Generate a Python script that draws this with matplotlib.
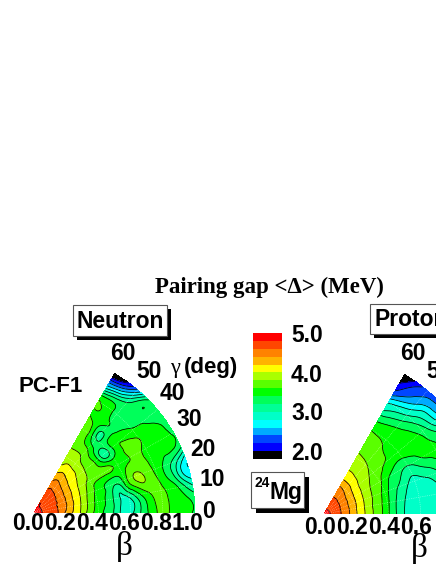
import numpy as np
import matplotlib
matplotlib.use("Agg")
import matplotlib.pyplot as plt
import matplotlib.tri as mtri
from matplotlib.colors import ListedColormap
from matplotlib.patches import Rectangle

# values are in colour steps above 2.0 MeV (one step = 3/16 MeV)
step = 3.0 / 16
beta_vals = np.arange(0, 21) * 0.05
gamma_vals = np.arange(0, 13) * 5.0

neutron_steps = [
    [15.3, 15.0, 14.6, 14.0, 12.8, 11.8, 10.7, 9.4, 8.5, 7.7, 6.9, 5.7, 5.7, 6.7, 7.8, 8.8, 9.2, 8.9, 8.5, 8.2, 7.9],
    [15.3, 15.0, 14.6, 14.0, 13.0, 11.9, 10.8, 9.6, 8.6, 7.9, 7.0, 5.8, 5.5, 6.6, 7.9, 8.9, 9.3, 8.9, 8.5, 8.2, 7.7],
    [15.3, 15.0, 14.6, 14.0, 13.1, 12.0, 10.9, 9.7, 8.7, 8.0, 7.0, 5.9, 6.2, 7.5, 8.6, 9.2, 9.2, 8.8, 8.2, 7.1, 6.0],
    [15.3, 15.0, 14.6, 14.0, 13.2, 12.1, 11.0, 9.8, 8.8, 8.1, 7.2, 6.2, 7.8, 9.1, 9.9, 9.5, 9.0, 8.1, 7.0, 5.2, 4.2],
    [15.3, 15.0, 14.6, 14.0, 13.2, 12.1, 11.1, 10.0, 9.0, 8.2, 7.5, 7.2, 8.5, 9.9, 10.2, 9.4, 8.8, 8.0, 7.1, 5.9, 4.5],
    [15.3, 15.0, 14.6, 14.1, 13.3, 12.2, 11.2, 10.2, 9.2, 8.5, 8.3, 8.2, 8.6, 9.3, 9.4, 9.2, 8.7, 8.3, 8.2, 8.1, 7.4],
    [15.3, 15.0, 14.7, 14.1, 13.3, 12.3, 11.3, 10.4, 9.7, 9.4, 9.3, 9.2, 8.7, 8.8, 9.1, 9.2, 8.7, 8.3, 8.1, 8.1, 7.9],
    [15.3, 15.0, 14.7, 14.2, 13.4, 12.4, 11.4, 10.7, 10.0, 9.4, 9.0, 8.1, 7.9, 8.6, 9.2, 9.3, 9.0, 8.5, 8.2, 8.05, 7.6],
    [15.3, 15.0, 14.7, 14.2, 13.5, 12.5, 11.6, 10.9, 10.2, 9.5, 8.7, 6.7, 7.0, 8.5, 8.9, 8.6, 8.2, 8.0, 7.8, 7.6, 7.5],
    [15.3, 15.0, 14.7, 14.3, 13.6, 12.7, 11.8, 11.1, 10.4, 9.6, 8.7, 7.4, 7.3, 8.0, 8.0, 7.8, 7.6, 7.5, 7.7, 7.9, 6.8],
    [15.3, 15.0, 14.7, 14.3, 13.7, 12.9, 12.0, 11.2, 10.5, 10.0, 9.3, 8.2, 7.0, 6.8, 7.9, 7.8, 7.6, 7.7, 6.9, 5.2, 3.0],
    [15.3, 15.1, 14.8, 14.4, 13.8, 13.0, 12.1, 11.3, 10.6, 10.2, 9.5, 9.0, 8.8, 8.6, 8.6, 8.7, 8.6, 7.9, 5.6, 2.9, 0.5],
    [15.3, 15.1, 14.8, 14.3, 13.6, 12.7, 11.8, 10.9, 10.5, 10.1, 9.8, 9.5, 9.3, 9.1, 9.0, 9.0, 9.1, 7.6, 4.6, 2.2, -1.5],
]

proton_steps = [
    [15.2, 14.85, 14.1, 13.2, 12.1, 11.1, 10.1, 9.3, 8.1, 7.0, 6.0, 5.3, 5.1, 5.1, 5.2, 5.4, 5.8, 6.3, 6.8, 7.2, 7.5],
    [15.2, 14.85, 14.1, 13.2, 12.1, 11.1, 10.1, 9.3, 8.15, 7.0, 6.05, 5.35, 5.1, 5.1, 5.2, 5.4, 5.8, 6.3, 6.8, 7.2, 7.5],
    [15.2, 14.85, 14.1, 13.2, 12.1, 11.1, 10.1, 9.3, 8.25, 7.1, 6.2, 5.45, 5.2, 5.2, 5.3, 5.6, 6.0, 6.5, 7.0, 7.4, 7.6],
    [15.2, 14.85, 14.1, 13.2, 12.15, 11.15, 10.2, 9.4, 8.4, 7.3, 6.5, 5.7, 5.4, 5.45, 5.7, 6.2, 6.8, 7.2, 7.4, 7.6, 7.7],
    [15.2, 14.85, 14.1, 13.2, 12.2, 11.2, 10.3, 9.5, 8.6, 7.5, 6.85, 6.1, 5.7, 5.9, 6.2, 6.8, 7.4, 7.7, 7.8, 7.8, 7.7],
    [15.2, 14.85, 14.15, 13.25, 12.25, 11.25, 10.4, 9.6, 8.9, 7.85, 7.3, 6.6, 6.2, 6.6, 7.1, 7.6, 8.0, 8.05, 7.9, 7.5, 7.2],
    [15.2, 14.85, 14.15, 13.3, 12.3, 11.3, 10.5, 9.75, 9.2, 8.25, 7.7, 7.2, 7.0, 7.4, 8.0, 8.2, 8.2, 8.0, 7.6, 7.0, 6.5],
    [15.2, 14.85, 14.2, 13.3, 12.4, 11.4, 10.6, 9.95, 9.4, 8.85, 8.35, 7.95, 7.95, 8.2, 8.3, 8.3, 8.0, 7.5, 6.8, 6.0, 5.0],
    [15.2, 14.85, 14.2, 13.4, 12.5, 11.5, 10.7, 10.15, 9.65, 9.2, 8.95, 8.7, 8.55, 8.5, 8.4, 8.15, 7.6, 6.5, 5.2, 4.0, 3.0],
    [15.2, 14.85, 14.25, 13.45, 12.65, 11.7, 10.9, 10.35, 9.9, 9.45, 9.15, 8.9, 8.75, 8.5, 8.25, 7.8, 6.9, 5.9, 4.8, 3.5, 2.7],
    [15.2, 14.85, 14.3, 13.5, 12.8, 11.8, 11.0, 10.5, 10.1, 9.65, 9.3, 9.05, 8.85, 8.5, 8.0, 7.1, 6.0, 4.9, 3.8, 3.0, 2.4],
    [15.2, 14.85, 14.3, 13.55, 12.9, 11.85, 11.1, 10.6, 10.2, 9.8, 9.4, 9.15, 8.9, 8.35, 7.6, 6.5, 5.4, 4.0, 2.8, 2.2, 1.2],
    [15.2, 14.85, 14.3, 13.6, 13.0, 11.9, 11.1, 10.7, 10.25, 9.9, 9.5, 9.2, 8.95, 8.2, 7.2, 5.8, 4.9, 2.9, 1.7, 0.7, -1.0],
]

band_colors = [
    "#000000", "#0000ff", "#0046ff", "#00aaff", "#00ffff", "#00ffc8", "#00ff96", "#00ff5a",
    "#00ff00", "#5aff00", "#aaff00", "#ffff00", "#ffb400", "#ff8200", "#ff4600", "#ff0000",
]
bar_labels = ["5.0", "4.0", "3.0", "2.0"]
bar_label_y = [336, 375, 414, 453]
gamma_labels = ["60", "50", "40", "30", "20", "10", "0"]
gamma_label_x = [123, 149, 172, 189, 203, 212, 208]
gamma_label_y = [353, 372, 394, 420, 449, 480, 512]
beta_labels = ["0.0", "0.2", "0.4", "0.6", "0.8", "1.0"]

W, H = 436, 564
R = 161
SANS = "Liberation Sans"
SERIF = "Liberation Serif"
levels = 2.0 + step * np.arange(17)
cmap = ListedColormap(band_colors)
cmap.set_under("#000000")
cmap.set_over("#ff0000")


def draw_panel(fig, x0, y0, steps):
    ax = fig.add_axes([x0 / W, (H - y0) / H, R / W, R / H])
    ax.set_xlim(0, 1)
    ax.set_ylim(0, 1)
    ax.axis("off")
    gap = 2.0 + step * np.array(steps)
    b, g = np.meshgrid(beta_vals[1:], np.radians(gamma_vals))
    x = np.r_[0.0, (b * np.cos(g)).ravel()]
    y = np.r_[0.0, (b * np.sin(g)).ravel()]
    z = np.r_[gap[:, 0].mean(), gap[:, 1:].ravel()]
    tri = mtri.Triangulation(x, y)
    an = mtri.TriAnalyzer(tri)
    tri.set_mask(an.get_flat_tri_mask(0.01))
    refiner = mtri.UniformTriRefiner(tri)
    interp = mtri.CubicTriInterpolator(tri, z, kind="min_E")
    tri2, z2 = refiner.refine_field(z, triinterpolator=interp, subdiv=3)
    ax.tricontourf(tri2, z2, levels=levels, cmap=cmap, extend="both")
    ax.tricontour(tri2, z2, levels=levels[1:], colors="k", linewidths=0.55)
    # faint dotted grid inside the sector
    th = np.radians(np.linspace(0, 60, 60))
    for r in [0.2, 0.4, 0.6, 0.8]:
        ax.plot(r * np.cos(th), r * np.sin(th), color="w", lw=0.5, ls=":", alpha=0.6)
    for a in np.radians([10, 20, 30, 40, 50]):
        ax.plot([0, np.cos(a)], [0, np.sin(a)], color="w", lw=0.5, ls=":", alpha=0.6)
    return ax


def shadow_box(ax, x0, y0, x1, y1, off):
    ax.add_patch(Rectangle((x0 + off, y0 + off), x1 - x0, y1 - y0, fc="k", ec="none", zorder=3))
    ax.add_patch(Rectangle((x0, y0), x1 - x0, y1 - y0, fc="w", ec="#555555", lw=0.8, zorder=4))


fig = plt.figure(figsize=(W / 100, H / 100), dpi=100)
page = fig.add_axes([0, 0, 1, 1], zorder=5)
page.set_xlim(0, W)
page.set_ylim(H, 0)
page.axis("off")
page.patch.set_alpha(0)

draw_panel(fig, 34, 513, neutron_steps)
draw_panel(fig, 324, 514, proton_steps)

bold = dict(family=SANS, fontweight="bold", ha="center", va="center", color="k")
TICK = 16.5

page.text(269, 287, "Pairing gap <\u0394> (MeV)", family=SERIF, fontweight="bold",
          fontsize=16.5, ha="center", va="center")

shadow_box(page, 73, 305, 167, 336, 4)
page.text(120, 321, "Neutron", fontsize=16.5, zorder=6, **bold)
shadow_box(page, 370, 304, 470, 334, 4)
page.text(374, 320, "Proton", fontsize=16.5, zorder=6, family=SANS, fontweight="bold", ha="left", va="center")
shadow_box(page, 251, 472, 304, 508, 5)
page.text(254, 483, "24", fontsize=10, zorder=6, family=SANS, fontweight="bold", ha="left", va="center")
page.text(269, 493, "Mg", fontsize=16.5, zorder=6, family=SANS, fontweight="bold", ha="left", va="center")

page.text(51, 387, "PC-F1", fontsize=16, **bold)
page.text(170, 368, "\u03b3", family=SERIF, fontsize=16, ha="left", va="center")
page.text(184, 367, "(deg)", fontsize=16, family=SANS, fontweight="bold", ha="left", va="center")

for lab, lx, ly in zip(gamma_labels, gamma_label_x, gamma_label_y):
    page.text(lx, ly, lab, fontsize=TICK, **bold)
for i, lab in enumerate(beta_labels):
    page.text(28.5 + i * 31.8, 524, lab, fontsize=TICK, **bold)
page.text(124, 546, "\u03b2", family=SERIF, fontsize=24, ha="center", va="center")

# right panel runs off the page, only the labels that still show
page.text(413, 353, gamma_labels[0], fontsize=TICK, **bold)
page.text(439, 372, gamma_labels[1], fontsize=TICK, **bold)
for i, lab in enumerate(beta_labels[:4]):
    page.text(320.5 + i * 31.8, 527, lab, fontsize=TICK, **bold)
page.text(419, 548, "\u03b2", family=SERIF, fontsize=24, ha="center", va="center")

# colour bar
bar = fig.add_axes([253 / W, (H - 459) / H, 29 / W, 126 / H], zorder=2)
bar.pcolormesh([0, 1], levels, np.arange(16).reshape(-1, 1), cmap=cmap, vmin=0, vmax=15.99)
bar.set_xticks([])
bar.set_yticks([])
for s in bar.spines.values():
    s.set_visible(False)
for lab, ly in zip(bar_labels, bar_label_y):
    page.text(307, ly, lab, fontsize=TICK, **bold)

fig.savefig("out.png", dpi=100)
